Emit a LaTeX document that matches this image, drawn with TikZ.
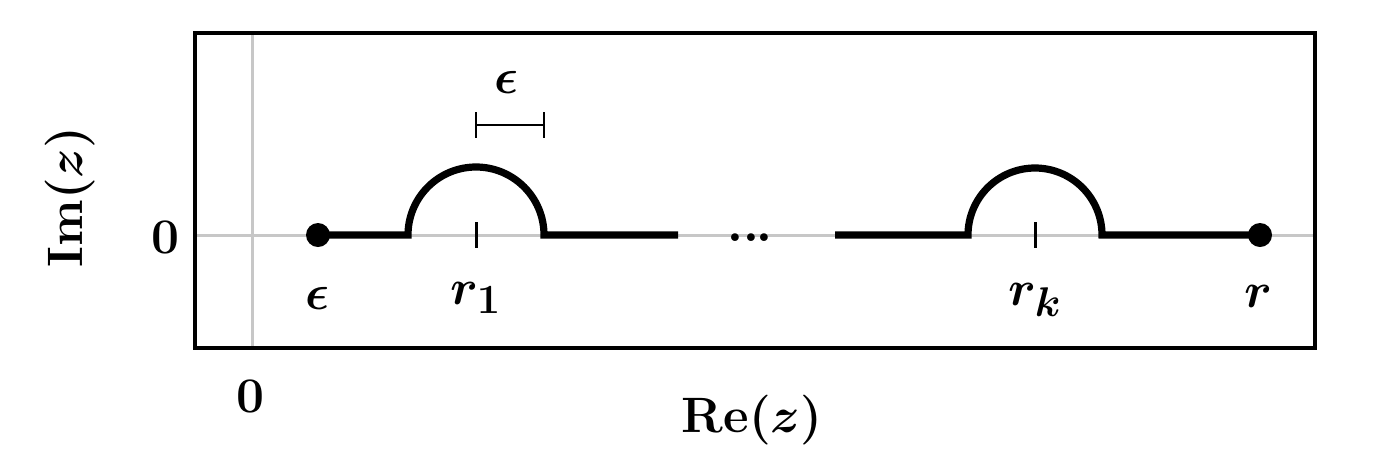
\documentclass[tikz,border=0pt]{standalone}
\usepackage{amsmath,bm}
\begin{document}
\begin{tikzpicture}[x=0.5pt,y=-0.5pt,
  lab/.style={font=\fontsize{28}{32}\selectfont\boldmath},
  path/.style={line width=3.6pt},
  ax/.style={line width=1.5pt,black!22}]
\useasboundingbox (0,0) rectangle (1400,462);
\draw[ax] (252,33) -- (252,348);
\draw[ax] (195,235) -- (1315,235);
\draw[line width=1.6pt] (195,33) rectangle (1315,348);
\coordinate (e) at (318,235);
\coordinate (a1) at (408,235);
\coordinate (c1) at (678,235);
\coordinate (c2) at (835,235);
\coordinate (a2) at (968,235);
\coordinate (r) at (1260,235);
\draw[path] (e) -- (a1) arc[start angle=180,end angle=360,radius=68] -- (c1);
\draw[path] (c2) -- (a2) arc[start angle=180,end angle=360,radius=67] -- (r);
\fill (e) circle[radius=12];
\fill (r) circle[radius=12];
\draw[line width=1.5pt] (476,222) -- (476,248);
\draw[line width=1.5pt] (1035,222) -- (1035,248);
\draw[line width=1.3pt] (476,125) -- (544,125) (476,112) -- (476,138) (544,112) -- (544,138);
\node[lab] (eps) at (507,82) {$\epsilon$};
\node[lab] (dots) at (750,238) {$\mathbf{..\kern-1pt.}$};
\node[lab] (l1) at (318,298) {$\epsilon$};
\node[lab] (l2) at (476,298) {$r_1$};
\node[lab] (l3) at (1035,300) {$r_k$};
\node[lab] (l4) at (1258,296) {$r$};
\node[lab] (y0) at (165,237) {$\mathbf{0}$};
\node[lab] (x0) at (250,396) {$\mathbf{0}$};
\node[lab] (re) at (752,420) {$\mathbf{Re}(z)$};
\node[lab,rotate=90] (im) at (70,197) {$\mathbf{Im}(z)$};
\end{tikzpicture}
\end{document}
